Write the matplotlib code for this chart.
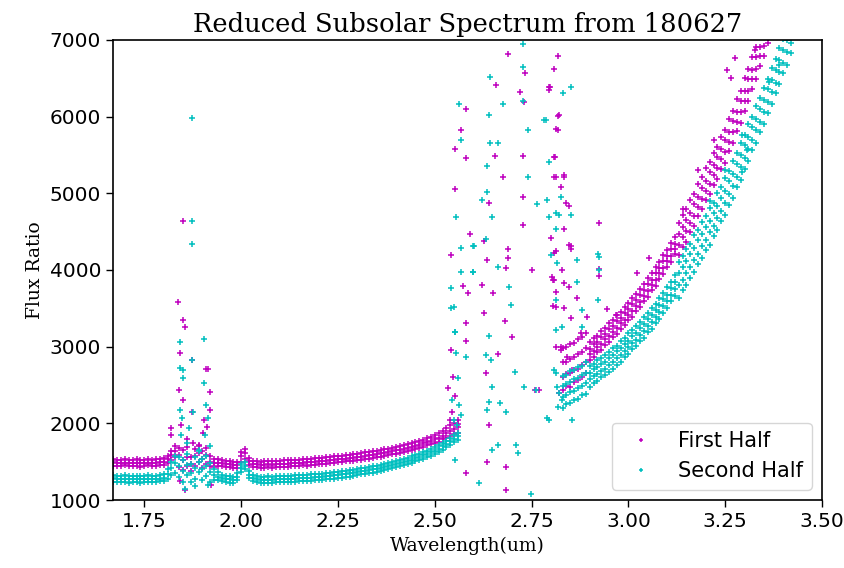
import matplotlib
matplotlib.use("Agg")
import matplotlib.pyplot as plt
import numpy as np

# wavelength samples (um) for the two continuous parts of the spectrum
wl_left = [1.67, 1.68, 1.69, 1.70, 1.71, 1.72, 1.73, 1.74, 1.75, 1.76,
           1.77, 1.78, 1.79, 1.80, 1.81, 1.82, 1.83, 1.84, 1.85, 1.86,
           1.87, 1.88, 1.89, 1.90, 1.91, 1.92, 1.93, 1.94, 1.95, 1.96,
           1.97, 1.98, 1.99, 2.00, 2.01, 2.02, 2.03, 2.04, 2.05, 2.06,
           2.07, 2.08, 2.09, 2.10, 2.11, 2.12, 2.13, 2.14, 2.15, 2.16,
           2.17, 2.18, 2.19, 2.20, 2.21, 2.22, 2.23, 2.24, 2.25, 2.26,
           2.27, 2.28, 2.29, 2.30, 2.31, 2.32, 2.33, 2.34, 2.35, 2.36,
           2.37, 2.38, 2.39, 2.40, 2.41, 2.42, 2.43, 2.44, 2.45, 2.46,
           2.47, 2.48, 2.49, 2.50, 2.51, 2.52, 2.53, 2.54, 2.55, 2.56]
wl_right = [2.83, 2.84, 2.85, 2.86, 2.87, 2.88, 2.89, 2.90, 2.91, 2.92,
            2.93, 2.94, 2.95, 2.96, 2.97, 2.98, 2.99, 3.00, 3.01, 3.02,
            3.03, 3.04, 3.05, 3.06, 3.07, 3.08, 3.09, 3.10, 3.11, 3.12,
            3.13, 3.14, 3.15, 3.16, 3.17, 3.18, 3.19, 3.20, 3.21, 3.22,
            3.23, 3.24, 3.25, 3.26, 3.27, 3.28, 3.29, 3.30, 3.31, 3.32,
            3.33, 3.34, 3.35, 3.36, 3.37, 3.38, 3.39, 3.40, 3.41, 3.42]

# ---- first half (magenta) ----
first_left_lo = [1450, 1441, 1447, 1452, 1438, 1445, 1449, 1436, 1446, 1451,
                 1440, 1448, 1455, 1460,
                 1480, 1520, 1560, 1430, 1390, 1450, 1380, 1440, 1500, 1420,
                 1470, 1440, 1430, 1445, 1440,
                 1432, 1428, 1418, 1415, 1500, 1540, 1460, 1433, 1425, 1420,
                 1424, 1425, 1421, 1430, 1429, 1436, 1433, 1441, 1440, 1447,
                 1452, 1449, 1458, 1460, 1466, 1468, 1475, 1480, 1486, 1490,
                 1498, 1503, 1508, 1515, 1521, 1528, 1536, 1540, 1552, 1558,
                 1567, 1574, 1586, 1594, 1605, 1614, 1628, 1638, 1652, 1666,
                 1680, 1694, 1712, 1726, 1745, 1762, 1790, 1815, 1840, 1865,
                 1880]
first_left_mid = [1492, 1486, 1481, 1488, 1484, 1479, 1486, 1482, 1484, 1489,
                  1481, 1485, 1491, 1502,
                  1530, 1585, 1640, 1590, 1520, 1560, 1470, 1575, 1610, 1540,
                  1590, 1500, 1480, 1488, 1478,
                  1472, 1466, 1458, 1452, 1575, 1610, 1505, 1474, 1466, 1460,
                  1462, 1466, 1463, 1469, 1471, 1473, 1476, 1479, 1482, 1485,
                  1489, 1491, 1496, 1499, 1503, 1509, 1513, 1519, 1523, 1529,
                  1536, 1541, 1547, 1553, 1561, 1567, 1575, 1581, 1591, 1599,
                  1607, 1616, 1625, 1635, 1646, 1657, 1669, 1681, 1695, 1709,
                  1723, 1739, 1756, 1773, 1791, 1813, 1839, 1871, 1901, 1931,
                  1952]
first_left_hi = [1531, 1528, 1520, 1533, 1525, 1518, 1530, 1524, 1527, 1534,
                 1522, 1529, 1535, 1548,
                 1580, 1640, 1700, 1680, 1650, 1690, 1560, 1660, 1720, 1640,
                 1680, 1570, 1530, 1530, 1520,
                 1512, 1505, 1498, 1494, 1630, 1660, 1550, 1515, 1508, 1501,
                 1503, 1509, 1505, 1510, 1514, 1516, 1520, 1519, 1525, 1528,
                 1532, 1536, 1540, 1545, 1548, 1553, 1557, 1564, 1570, 1574,
                 1580, 1588, 1592, 1600, 1606, 1612, 1620, 1628, 1636, 1644,
                 1652, 1663, 1670, 1682, 1692, 1703, 1716, 1728, 1742, 1756,
                 1772, 1788, 1806, 1826, 1848, 1872, 1900, 1935, 1975, 2010,
                 2040]

first_right_1 = [2440, 2490, 2480, 2540, 2570, 2610, 2660, 2820, 2870, 2930,
                 2960, 3025, 3060, 3125, 3170, 3235, 3280, 3345, 3390, 3465,
                 3515, 3595, 3650, 3735, 3790, 3885, 3950, 4045, 4110, 4205,
                 4190, 4300, 4370, 4490, 4570, 4700, 4790, 4910, 4990, 5110,
                 5190, 5320, 5400, 5550, 5660, 5810, 5920, 6080, 6200, 6360,
                 6490, 6660, 6790, 6960, 7080, 7240, 7380, 7540, 7690, 7850]
first_right_2 = [2610, 2640, 2655, 2700, 2715, 2765, 2795, 2905, 2940, 2995,
                 3035, 3095, 3135, 3195, 3240, 3305, 3350, 3415, 3465, 3535,
                 3585, 3665, 3725, 3805, 3865, 3955, 4025, 4115, 4185, 4275,
                 4325, 4425, 4505, 4615, 4705, 4825, 4925, 5035, 5125, 5235,
                 5325, 5445, 5545, 5675, 5795, 5935, 6055, 6205, 6335, 6485,
                 6625, 6785, 6925, 7085, 7225, 7380, 7530, 7680, 7830, 7980]
first_right_3 = [2795, 2805, 2845, 2865, 2905, 2935, 2985, 2975, 3030, 3065,
                 3125, 3165, 3225, 3265, 3330, 3375, 3440, 3485, 3555, 3605,
                 3675, 3735, 3815, 3875, 3955, 4025, 4115, 4185, 4275, 4345,
                 4475, 4555, 4655, 4745, 4855, 4955, 5075, 5165, 5275, 5365,
                 5475, 5575, 5695, 5805, 5945, 6065, 6205, 6335, 6485, 6615,
                 6775, 6915, 7075, 7215, 7375, 7515, 7675, 7815, 7975, 8115]
first_right_4 = [2980, 2990, 3040, 3050, 3100, 3120, 3180, 3055, 3110, 3145,
                 3205, 3245, 3305, 3345, 3410, 3455, 3520, 3565, 3635, 3685,
                 3755, 3815, 3895, 3955, 4035, 4105, 4195, 4265, 4355, 4425,
                 4610, 4720, 4790, 4910, 4990, 5120, 5210, 5330, 5410, 5530,
                 5610, 5740, 5830, 5970, 6080, 6230, 6340, 6500, 6620, 6780,
                 6910, 7080, 7210, 7380, 7510, 7680, 7810, 7980, 8110, 8280]

first_scatter = [
    (1.837, 3586), (1.849, 4639), (1.849, 3348), (1.855, 3261), (1.842, 2917),
    (1.840, 2435), (1.850, 2300), (1.820, 1940), (1.820, 1850), (1.855, 1130),
    (1.842, 1250), (1.909, 2709), (1.915, 2709), (1.919, 2413), (1.919, 2174),
    (1.901, 1874), (1.874, 2826), (1.872, 2152), (1.875, 1743), (1.923, 1196),
    (1.845, 1980), (1.860, 1800), (1.890, 1700), (1.905, 2050), (1.912, 1950),
    (2.581, 6100), (2.569, 5826), (2.553, 5578), (2.581, 5465), (2.553, 5056),
    (2.591, 4469), (2.542, 4196), (2.572, 3791), (2.585, 3700), (2.581, 3309),
    (2.581, 3070), (2.542, 2961), (2.533, 2461), (2.551, 2352), (2.581, 1352),
    (2.545, 2150), (2.540, 2050), (2.548, 2600), (2.560, 1990),
    (2.688, 6817), (2.819, 6791), (2.808, 6617), (2.797, 6391), (2.795, 6348),
    (2.658, 6413), (2.720, 6326), (2.733, 6565), (2.731, 6196), (2.656, 5487),
    (2.727, 5487), (2.814, 5835), (2.821, 6022), (2.811, 5470), (2.834, 5239),
    (2.677, 5217), (2.812, 5209), (2.825, 5087), (2.639, 4878), (2.727, 4948),
    (2.727, 4587), (2.628, 4383), (2.690, 4274), (2.688, 4152), (2.636, 4130),
    (2.752, 4000), (2.684, 4022), (2.622, 3804), (2.651, 3695), (2.806, 3870),
    (2.812, 3717), (2.628, 3443), (2.682, 3339), (2.662, 2904), (2.699, 3130),
    (2.632, 2652), (2.814, 3000), (2.825, 2956), (2.641, 1978), (2.634, 1500),
    (2.684, 1435), (2.684, 1130), (2.838, 4878), (2.834, 4530), (2.800, 4413),
    (2.812, 4252), (2.760, 2440), (2.770, 2440),
    (2.847, 4835), (2.924, 4609), (2.847, 4326), (2.851, 4270), (2.808, 4217),
    (2.808, 3870), (2.829, 4000), (2.847, 3783), (2.924, 4009), (2.924, 3922),
    (3.053, 4152), (3.023, 3956), (2.812, 3522), (2.834, 3500), (2.868, 3630),
    (2.945, 3487), (2.967, 3413), (2.894, 3391), (2.851, 3370), (2.877, 3174),
    (2.825, 3000), (2.842, 2870), (2.855, 2696), (2.821, 2391), (2.817, 6008),
    (2.817, 5826), (2.808, 5478), (2.808, 5217), (2.834, 5217), (2.851, 4312),
    (2.804, 3913), (2.806, 3530), (2.834, 3825), (2.794, 6391),
    (3.276, 6761), (3.255, 6608), (3.264, 6500), (3.328, 6869), (3.180, 5300),
    (3.140, 4800), (3.220, 5700)]

# ---- second half (cyan) ----
second_left_lo = [1240, 1231, 1236, 1241, 1228, 1232, 1238, 1226, 1233, 1240,
                  1229, 1236, 1242, 1250,
                  1280, 1330, 1350, 1300, 1240, 1320, 1230, 1280, 1360, 1260,
                  1310, 1240, 1260, 1255, 1245,
                  1236, 1228, 1224, 1255, 1360, 1400, 1290, 1250, 1232, 1226,
                  1224, 1227, 1222, 1230, 1229, 1234, 1232, 1239, 1238, 1245,
                  1244, 1251, 1252, 1259, 1260, 1267, 1270, 1276, 1280, 1289,
                  1292, 1302, 1306, 1317, 1322, 1333, 1339, 1350, 1358, 1370,
                  1378, 1392, 1400, 1416, 1425, 1442, 1452, 1470, 1483, 1503,
                  1518, 1540, 1557, 1580, 1600, 1626, 1652, 1686, 1718, 1752,
                  1780]
second_left_mid = [1282, 1276, 1271, 1278, 1273, 1268, 1275, 1270, 1272, 1277,
                   1270, 1274, 1280, 1292,
                   1340, 1420, 1480, 1440, 1380, 1460, 1350, 1420, 1500, 1400,
                   1450, 1360, 1320, 1300, 1285,
                   1275, 1268, 1262, 1300, 1420, 1450, 1330, 1290, 1272, 1266,
                   1264, 1266, 1265, 1268, 1270, 1272, 1274, 1277, 1280, 1283,
                   1286, 1289, 1293, 1297, 1301, 1306, 1311, 1316, 1322, 1328,
                   1334, 1341, 1348, 1356, 1364, 1372, 1381, 1390, 1400, 1410,
                   1421, 1432, 1444, 1456, 1469, 1482, 1496, 1511, 1527, 1544,
                   1562, 1581, 1601, 1622, 1645, 1670, 1698, 1730, 1765, 1800,
                   1830]
second_left_hi = [1322, 1318, 1310, 1320, 1316, 1307, 1318, 1312, 1314, 1321,
                  1309, 1317, 1322, 1335,
                  1400, 1500, 1580, 1560, 1520, 1600, 1470, 1560, 1640, 1540,
                  1580, 1480, 1400, 1360, 1330,
                  1316, 1309, 1302, 1350, 1470, 1500, 1380, 1330, 1312, 1306,
                  1303, 1307, 1306, 1309, 1312, 1313, 1316, 1317, 1322, 1323,
                  1328, 1329, 1334, 1337, 1342, 1345, 1352, 1355, 1363, 1367,
                  1376, 1380, 1389, 1395, 1405, 1411, 1422, 1430, 1441, 1450,
                  1462, 1472, 1486, 1496, 1512, 1522, 1538, 1551, 1570, 1584,
                  1605, 1621, 1645, 1663, 1690, 1714, 1744, 1774, 1812, 1848,
                  1880]

second_right_1 = [2200, 2250, 2260, 2310, 2320, 2370, 2380, 2480, 2530, 2555,
                  2600, 2625, 2675, 2710, 2765, 2805, 2865, 2905, 2965, 3005,
                  3070, 3115, 3185, 3235, 3305, 3365, 3445, 3505, 3595, 3665,
                  3640, 3740, 3800, 3900, 3970, 4080, 4150, 4260, 4330, 4440,
                  4520, 4640, 4720, 4850, 4940, 5080, 5180, 5320, 5420, 5560,
                  5660, 5800, 5900, 6050, 6160, 6310, 6420, 6570, 6680, 6830]
second_right_2 = [2350, 2365, 2405, 2425, 2465, 2485, 2525, 2575, 2615, 2640,
                  2685, 2710, 2760, 2795, 2850, 2890, 2950, 2990, 3050, 3090,
                  3155, 3200, 3270, 3320, 3390, 3450, 3530, 3590, 3680, 3750,
                  3800, 3875, 3960, 4035, 4130, 4215, 4310, 4395, 4490, 4575,
                  4680, 4775, 4880, 4985, 5100, 5215, 5340, 5455, 5580, 5695,
                  5820, 5935, 6060, 6185, 6320, 6445, 6580, 6705, 6840, 6965]
second_right_3 = [2485, 2515, 2535, 2575, 2595, 2635, 2655, 2660, 2705, 2730,
                  2775, 2800, 2850, 2885, 2940, 2980, 3040, 3080, 3140, 3180,
                  3245, 3290, 3360, 3410, 3480, 3540, 3620, 3680, 3770, 3840,
                  3955, 4045, 4115, 4205, 4285, 4385, 4465, 4565, 4645, 4745,
                  4835, 4945, 5035, 5155, 5255, 5385, 5495, 5625, 5735, 5865,
                  5975, 6105, 6215, 6355, 6475, 6615, 6735, 6875, 6995, 7135]
second_right_4 = [2620, 2630, 2680, 2690, 2740, 2750, 2800, 2750, 2780, 2825,
                  2850, 2895, 2925, 2980, 3015, 3075, 3115, 3175, 3215, 3275,
                  3320, 3385, 3435, 3505, 3555, 3635, 3695, 3775, 3845, 3935,
                  4110, 4180, 4280, 4340, 4450, 4520, 4630, 4700, 4810, 4880,
                  5000, 5080, 5200, 5290, 5420, 5520, 5660, 5760, 5900, 6000,
                  6140, 6240, 6380, 6490, 6640, 6750, 6900, 7010, 7160, 7270]

second_scatter = [
    (1.872, 5987), (1.872, 4639), (1.872, 4335), (1.842, 3065), (1.904, 3100),
    (1.874, 2826), (1.841, 2726), (1.850, 2700), (1.841, 2174), (1.848, 2065),
    (1.904, 2523), (1.909, 2239), (1.915, 2065), (1.875, 2152), (1.866, 1935),
    (1.907, 1848), (1.850, 2587), (1.860, 1750), (1.890, 1650), (1.845, 1850),
    (1.920, 1700), (1.855, 1150), (1.915, 1200), (1.880, 1180),
    (2.563, 6165), (2.569, 5696), (2.556, 4696), (2.569, 4283), (2.569, 3978),
    (2.599, 3978), (2.600, 4313), (2.542, 3761), (2.542, 3500), (2.551, 3196),
    (2.581, 2870), (2.555, 2922), (2.561, 2587), (2.551, 1522), (2.563, 2239),
    (2.567, 2109), (2.545, 2300), (2.550, 2050), (2.558, 1980),
    (2.727, 6948), (2.642, 6513), (2.727, 6652), (2.639, 6022), (2.677, 6161),
    (2.728, 6209), (2.787, 5957), (2.742, 5826), (2.642, 5661), (2.662, 5661),
    (2.634, 5356), (2.742, 5217), (2.795, 5413), (2.634, 5022), (2.623, 4913),
    (2.765, 4861), (2.791, 4913), (2.649, 4696), (2.602, 4313), (2.632, 4400),
    (2.812, 4739), (2.812, 4530), (2.800, 4196), (2.598, 3978), (2.662, 4043),
    (2.692, 3783), (2.550, 3522), (2.553, 3196), (2.696, 3543), (2.641, 3139),
    (2.632, 2891), (2.645, 2826), (2.649, 2478), (2.641, 2283), (2.636, 2174),
    (2.668, 2261), (2.684, 2152), (2.708, 2674), (2.731, 2478), (2.761, 2435),
    (2.795, 2043), (2.649, 1652), (2.662, 1717), (2.709, 1717), (2.714, 1617),
    (2.615, 1217), (2.748, 1078), (2.812, 3217), (2.812, 2652), (2.821, 2391),
    (2.817, 2217),
    (2.821, 4717), (2.851, 4717), (2.816, 4087), (2.868, 4130), (2.922, 4209),
    (2.922, 3609), (2.868, 3848), (2.812, 3609), (2.829, 3261), (2.881, 3478),
    (2.808, 2696), (2.816, 2478), (2.829, 2304), (2.881, 3261), (2.851, 6391),
    (2.830, 6304), (2.782, 5956), (2.826, 4956), (2.795, 4695), (2.924, 4173),
    (2.924, 3999), (2.855, 2043), (2.791, 2065),
    (3.293, 5761), (3.362, 6456), (3.388, 6674), (3.293, 5282), (3.306, 5565),
    (3.250, 5300), (3.210, 4900)]


def gather(left_rows, right_rows, scatter):
    xs, ys = [], []
    for row in left_rows:
        xs += wl_left
        ys += row
    for row in right_rows:
        xs += wl_right
        ys += row
    xs += [p[0] for p in scatter]
    ys += [p[1] for p in scatter]
    return np.array(xs), np.array(ys)


x1, y1 = gather([first_left_lo, first_left_mid, first_left_hi],
                [first_right_1, first_right_2, first_right_3, first_right_4],
                first_scatter)
x2, y2 = gather([second_left_lo, second_left_mid, second_left_hi],
                [second_right_1, second_right_2, second_right_3, second_right_4],
                second_scatter)

fig = plt.figure(figsize=(8.45, 5.68), dpi=100)
ax = fig.add_axes([0.1337, 0.1197, 0.8391, 0.8099])

ax.plot(x1, y1, '+', color='m', ms=4.4, mew=1.1, label='First Half')
ax.plot(x2, y2, '+', color='c', ms=4.4, mew=1.1, label='Second Half')

ax.set_xlim(1.669, 3.5)
ax.set_ylim(1000, 7000)
ax.set_xticks([1.75, 2.00, 2.25, 2.50, 2.75, 3.00, 3.25, 3.50])
ax.tick_params(labelsize=14.5, length=5, width=1)
for s in ax.spines.values():
    s.set_linewidth(1.2)

ax.set_title('Reduced Subsolar Spectrum from 180627', family='serif', fontsize=18.5)
ax.set_xlabel('Wavelength(um)', family='serif', fontsize=13.5)
ax.set_ylabel('Flux Ratio', family='serif', fontsize=13.5)
ax.legend(loc='lower right', fontsize=15, markerscale=0.7)

fig.savefig('out.png', dpi=100)
